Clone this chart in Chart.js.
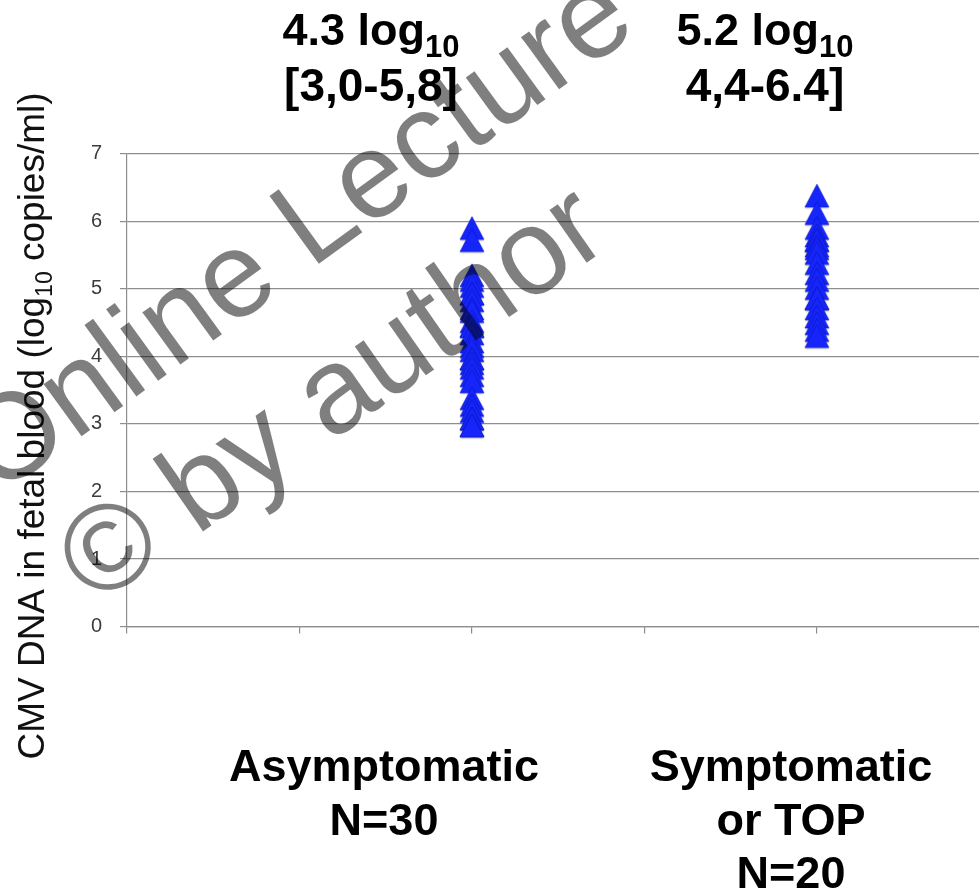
<!DOCTYPE html>
<html>
<head>
<meta charset="utf-8">
<script src="https://cdn.jsdelivr.net/npm/chart.js@4.4.1/dist/chart.umd.min.js"></script>
<style>
  html, body { margin: 0; padding: 0; background: #ffffff; }
  #wrap { width: 979px; height: 895px; position: relative; }
</style>
</head>
<body>
<div id="wrap"><canvas id="c" width="979" height="895"></canvas></div>
<script>
// ---- data ----
const categories = ['Asymptomatic', 'Symptomatic'];
const categoryX = [2, 4];
const asymptomatic = [5.9, 5.72, 5.2, 5.13, 5.04, 4.93, 4.93, 4.83, 4.71, 4.67, 4.52, 4.45, 4.45, 4.34, 4.22,
                      4.15, 4.09, 3.97, 3.97, 3.9, 3.83, 3.72, 3.63, 3.38, 3.28, 3.19, 3.08, 3.08, 2.98, 2.98];
const symptomatic = [6.38, 6.12, 5.9, 5.79, 5.72, 5.72, 5.64, 5.6, 5.53, 5.38, 5.23, 5.13, 5.01, 4.86, 4.86,
                     4.71, 4.59, 4.49, 4.39, 4.3];
const yTicks = [0, 1, 2, 3, 4, 5, 6, 7];
const medianMain = ['4.3 log', '5.2 log'];
const medianSub = ['10', '10'];
const rangeLabels = ['[3,0-5,8]', '4,4-6.4]'];
const groupLabels = [['Asymptomatic', 'N=30'], ['Symptomatic', 'or TOP', 'N=20']];
const yTitle = ['CMV DNA in fetal blood (log', '10', ' copies/ml)'];
const watermark = ['Online Lecture', '\u00A9 by author'];

// ---- styling / layout ----
const FONT = '"Liberation Sans", Arial, Helvetica, sans-serif';
const GRID = '#8e8e8e';
const annotCenters = [371, 765];
const groupCenters = [384, 791];

function makeTriangle() {
  const w = 24, h = 23, m = 3;
  const cv = document.createElement('canvas');
  cv.width = w + 2 * m; cv.height = h + 2 * m;
  const g = cv.getContext('2d');
  g.shadowColor = 'rgba(0,0,40,0.35)';
  g.shadowBlur = 2;
  g.shadowOffsetY = 1;
  g.beginPath();
  g.moveTo(m + w / 2, m);
  g.lineTo(m + w, m + h);
  g.lineTo(m, m + h);
  g.closePath();
  g.fillStyle = 'rgb(22,38,250)';
  g.fill();
  g.shadowColor = 'transparent';
  g.strokeStyle = 'rgba(10,20,190,0.6)';
  g.lineWidth = 0.8;
  g.stroke();
  return cv;
}
const tri = makeTriangle();

function drawSub(ctx, parts, x, y, mainFont, subFont, subDy, align) {
  ctx.font = mainFont;
  const w1 = ctx.measureText(parts[0]).width;
  const w3 = parts[2] ? ctx.measureText(parts[2]).width : 0;
  ctx.font = subFont;
  const w2 = ctx.measureText(parts[1]).width;
  const total = w1 + w2 + w3;
  let sx = align === 'center' ? x - total / 2 : x;
  ctx.textAlign = 'left';
  ctx.textBaseline = 'alphabetic';
  ctx.font = mainFont;
  ctx.fillText(parts[0], sx, y);
  ctx.font = subFont;
  ctx.fillText(parts[1], sx + w1, y + subDy);
  if (parts[2]) { ctx.font = mainFont; ctx.fillText(parts[2], sx + w1 + w2, y); }
}

const textPlugin = {
  id: 'texts',
  beforeDraw(chart) {
    const ctx = chart.ctx;
    ctx.save();
    ctx.fillStyle = '#ffffff';
    ctx.fillRect(0, 0, chart.width, chart.height);
    ctx.restore();
  },
  afterDraw(chart) {
    const ctx = chart.ctx;
    ctx.save();
    ctx.fillStyle = '#000000';
    // top annotations
    for (let i = 0; i < 2; i++) {
      drawSub(ctx, [medianMain[i], medianSub[i], ''], annotCenters[i], 45,
        'bold 45px ' + FONT, 'bold 31px ' + FONT, 12, 'center');
      ctx.font = 'bold 46px ' + FONT;
      ctx.textAlign = 'center';
      ctx.fillText(rangeLabels[i], annotCenters[i], 101);
    }
    // bottom group labels
    ctx.font = 'bold 45px ' + FONT;
    ctx.textAlign = 'center';
    ctx.textBaseline = 'alphabetic';
    for (let i = 0; i < groupLabels.length; i++) {
      groupLabels[i].forEach((t, j) => ctx.fillText(t, groupCenters[i], 781 + j * 53.5));
    }
    // y axis title
    ctx.save();
    ctx.translate(44, 426);
    ctx.rotate(-Math.PI / 2);
    ctx.fillStyle = '#111111';
    drawSub(ctx, yTitle, 0, 0, '37px ' + FONT, '23px ' + FONT, 8, 'center');
    ctx.restore();
    // watermark
    ctx.fillStyle = 'rgba(0,0,0,0.5)';
    ctx.font = '122px ' + FONT;
    ctx.textAlign = 'left';
    ctx.save();
    ctx.translate(-2, 497);
    ctx.rotate(-36 * Math.PI / 180);
    ctx.fillText(watermark[0], 0, 0);
    ctx.restore();
    ctx.save();
    ctx.translate(95, 607);
    ctx.rotate(-35 * Math.PI / 180);
    ctx.fillText(watermark[1], 0, 0);
    ctx.restore();
    ctx.restore();
  }
};

const datasets = [asymptomatic, symptomatic].map((vals, i) => ({
  label: categories[i],
  data: vals.map(v => ({ x: categoryX[i], y: v })),
  pointStyle: tri,
  pointRadius: 12,
  pointHoverRadius: 12,
  showLine: false
}));

new Chart(document.getElementById('c'), {
  type: 'scatter',
  data: { datasets },
  options: {
    responsive: false,
    animation: false,
    events: [],
    layout: { autoPadding: false, padding: { top: 153.7, left: 0, right: 0, bottom: 0 } },
    plugins: { legend: { display: false }, tooltip: { enabled: false } },
    scales: {
      x: {
        type: 'linear',
        min: 0,
        max: 4.94,
        ticks: { display: false, stepSize: 1, includeBounds: false },
        grid: { drawOnChartArea: false, drawTicks: true, tickLength: 7, color: GRID, lineWidth: 1.2 },
        border: { display: true, color: GRID, width: 1.2 },
        afterFit(s) { s.height = 895 - 626.6; }
      },
      y: {
        type: 'linear',
        min: 0,
        max: 7,
        afterBuildTicks(s) { s.ticks = yTicks.map(v => ({ value: v })); },
        ticks: { color: '#3c3c3c', font: { family: FONT, size: 20 }, padding: 18 },
        grid: { color: GRID, lineWidth: 1.2, tickLength: 7 },
        border: { display: true, color: GRID, width: 1.2 },
        afterFit(s) { s.width = 127; }
      }
    }
  },
  plugins: [textPlugin]
});
</script>
</body>
</html>
